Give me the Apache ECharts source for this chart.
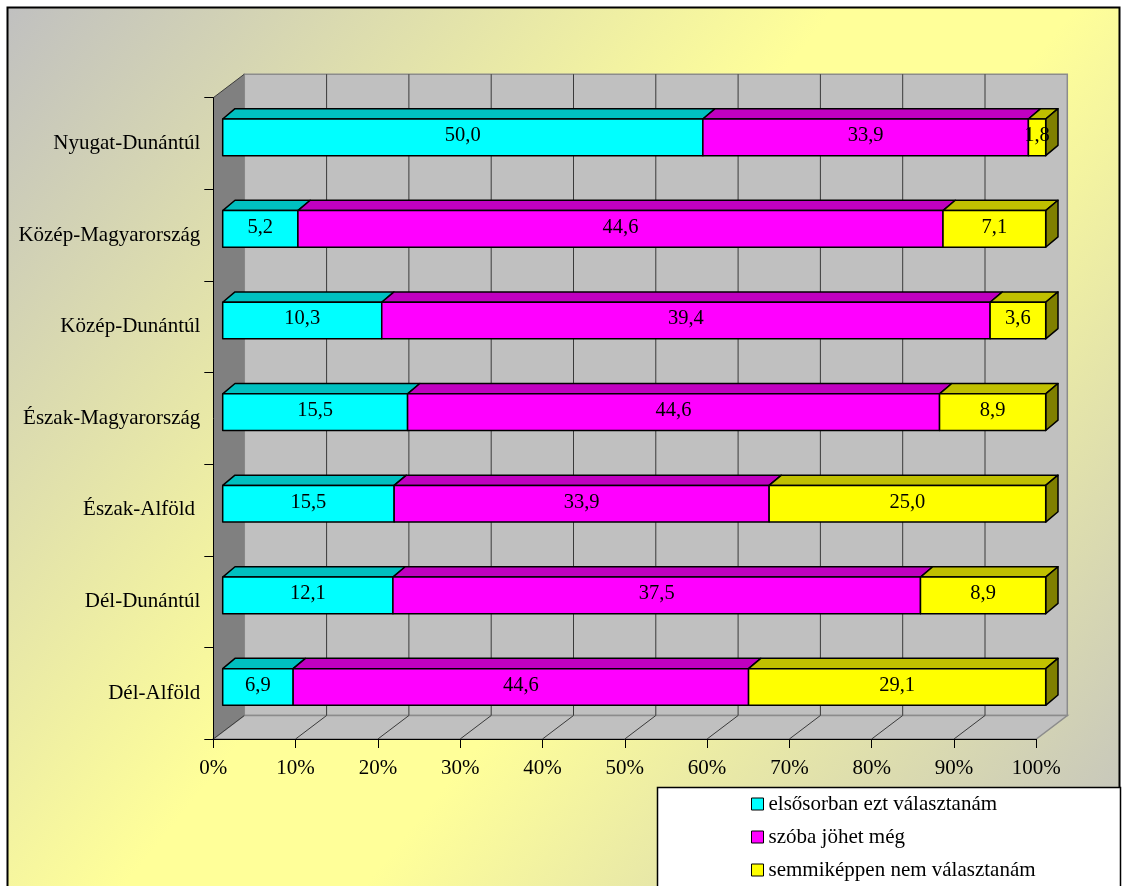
<!DOCTYPE html>
<html>
<head>
<meta charset="utf-8">
<title>Régiók</title>
<script src="https://cdn.jsdelivr.net/npm/echarts@6/dist/echarts.min.js"></script>
<style>
  html, body { margin: 0; padding: 0; background: #ffffff; }
  #chart { width: 1124px; height: 886px; }
</style>
</head>
<body>
<div id="chart"></div>
<script>
// Regions, listed from the bottom row upwards
const categories = ['Dél-Alföld', 'Dél-Dunántúl', 'Észak-Alföld ', 'Észak-Magyarország',
                    'Közép-Dunántúl', 'Közép-Magyarország', 'Nyugat-Dunántúl'];
const seriesNames = ['elsősorban ezt választanám', 'szóba jöhet még', 'semmiképpen nem választanám'];
const firstChoice = [6.9, 12.1, 15.5, 15.5, 10.3, 5.2, 50.0];
const maybe       = [44.6, 37.5, 33.9, 44.6, 39.4, 44.6, 33.9];
const never       = [29.1, 8.9, 25.0, 8.9, 3.6, 7.1, 1.8];
const xTicks      = [0, 10, 20, 30, 40, 50, 60, 70, 80, 90, 100];
const xTickLabels = ['0%', '10%', '20%', '30%', '40%', '50%', '60%', '70%', '80%', '90%', '100%'];

const seriesValues = [firstChoice, maybe, never];
const frontColors = ['#00ffff', '#ff00ff', '#ffff00'];
const topColors   = ['#00c0c0', '#c000c0', '#c0c000'];
const sideColors  = ['#008080', '#800080', '#808000'];

const FONT = '"Liberation Serif", "Times New Roman", serif';
const WALL_DEPTH = [31, -23.5];   // front plane -> back wall
const BAR_FRONT = [9.4, -6.2];    // front plane -> bar front face
const BAR_DEPTH = [12.3, -10.3];  // bar front face -> bar back face
const BAR_RATIO = 0.4;            // bar thickness as share of the band

function fmt(v) { return v.toFixed(1).replace('.', ','); }

// Stacked 100% segments: [row, start%, end%, raw value]
function segmentData(k) {
  return categories.map(function (c, i) {
    let total = 0, start = 0;
    for (let j = 0; j < seriesValues.length; j++) {
      total += seriesValues[j][i];
      if (j < k) start += seriesValues[j][i];
    }
    const end = start + seriesValues[k][i];
    return [i, start / total * 100, end / total * 100, seriesValues[k][i]];
  });
}

function wallsRenderer(params, api) {
  const cs = params.coordSys;
  const D = WALL_DEPTH;
  const xl = cs.x, xr = cs.x + cs.width, yt = cs.y, yb = cs.y + cs.height;
  const children = [];
  // back wall
  children.push({ type: 'rect', shape: { x: xl + D[0], y: yt + D[1], width: cs.width, height: cs.height },
    style: { fill: '#c0c0c0', stroke: '#8c8c8c', lineWidth: 1.5 } });
  // floor
  children.push({ type: 'polygon', shape: { points: [[xl, yb], [xr, yb], [xr + D[0], yb + D[1]], [xl + D[0], yb + D[1]]] },
    style: { fill: '#c0c0c0', stroke: '#8c8c8c', lineWidth: 1.5 } });
  // left wall
  children.push({ type: 'polygon', shape: { points: [[xl, yt], [xl + D[0], yt + D[1]], [xl + D[0], yb + D[1]], [xl, yb]] },
    style: { fill: '#808080' } });
  children.push({ type: 'line', shape: { x1: xl, y1: yt, x2: xl + D[0], y2: yt + D[1] },
    style: { stroke: '#3a3a3a', lineWidth: 1 } });
  children.push({ type: 'line', shape: { x1: xl, y1: yb, x2: xl + D[0], y2: yb + D[1] },
    style: { stroke: '#3a3a3a', lineWidth: 1 } });
  // gridlines on the back wall and floor
  xTicks.forEach(function (v, idx) {
    if (idx === 0 || idx === xTicks.length - 1) return;
    const x = api.coord([v, 0])[0];
    children.push({ type: 'line', shape: { x1: x + D[0], y1: yt + D[1], x2: x + D[0], y2: yb + D[1] },
      style: { stroke: '#3a3a3a', lineWidth: 1 } });
    children.push({ type: 'line', shape: { x1: x, y1: yb, x2: x + D[0], y2: yb + D[1] },
      style: { stroke: '#3a3a3a', lineWidth: 1 } });
  });
  return { type: 'group', children: children };
}

function barRenderer(k) {
  const last = k === seriesValues.length - 1;
  return function (params, api) {
    const row = api.value(0), s = api.value(1), e = api.value(2), raw = api.value(3);
    const p0 = api.coord([s, row]);
    const p1 = api.coord([e, row]);
    const band = api.size([0, 1])[1];
    const h = band * BAR_RATIO;
    const x0 = p0[0] + BAR_FRONT[0], x1 = p1[0] + BAR_FRONT[0];
    const yc = p0[1] + BAR_FRONT[1];
    const yt = yc - h / 2, yb = yc + h / 2;
    const dx = BAR_DEPTH[0], dy = BAR_DEPTH[1];
    const stroke = { stroke: '#000', lineWidth: 1.5, lineJoin: 'round' };
    const children = [];
    children.push({ type: 'polygon',
      shape: { points: [[x0, yt], [x1, yt], [x1 + dx, yt + dy], [x0 + dx, yt + dy]] },
      style: Object.assign({ fill: topColors[k] }, stroke) });
    if (last) {
      children.push({ type: 'polygon',
        shape: { points: [[x1, yt], [x1 + dx, yt + dy], [x1 + dx, yb + dy], [x1, yb]] },
        style: Object.assign({ fill: sideColors[k] }, stroke) });
    }
    children.push({ type: 'rect', shape: { x: x0, y: yt, width: x1 - x0, height: h },
      style: Object.assign({ fill: frontColors[k] }, stroke) });
    children.push({ type: 'text', z2: 10,
      style: { text: fmt(raw), x: (x0 + x1) / 2, y: yc - 1.5, align: 'center', verticalAlign: 'middle',
               font: '20.5px ' + FONT, fill: '#000' } });
    return { type: 'group', children: children };
  };
}

const chart = echarts.init(document.getElementById('chart'), null, { renderer: 'canvas' });

const series = [{
  type: 'custom', name: 'walls', silent: true, z: 1,
  renderItem: wallsRenderer, data: [[0]], encode: { x: 0, y: 0 }
}];
seriesNames.forEach(function (name, k) {
  series.push({
    type: 'custom', name: name, z: 3,
    itemStyle: { color: frontColors[k] },
    renderItem: barRenderer(k),
    encode: { y: 0, x: [1, 2] },
    data: segmentData(k)
  });
});

chart.setOption({
  animation: false,
  graphic: [
    { type: 'rect', z: -20, silent: true,
      shape: { x: 7.5, y: 7.5, width: 1112, height: 900 },
      style: { fill: new echarts.graphic.LinearGradient(0, 0, 1, 1, [
        { offset: 0, color: '#c0c0c0' },
        { offset: 0.45, color: '#ffff99' },
        { offset: 0.58, color: '#ffff99' },
        { offset: 1, color: '#c0c0c0' }
      ]), stroke: '#000', lineWidth: 2 } },
    { type: 'rect', z: -5, silent: true,
      shape: { x: 657.5, y: 787.5, width: 463, height: 120 },
      style: { fill: '#ffffff', stroke: '#000', lineWidth: 1.5 } }
  ],
  grid: { left: 213.3, top: 97.7, width: 823, height: 641.3 },
  xAxis: {
    type: 'value', min: 0, max: 100, interval: 10, z: 10,
    axisLine: { show: true, lineStyle: { color: '#000', width: 1 } },
    axisTick: { show: true, length: 9, lineStyle: { color: '#000', width: 1 } },
    axisLabel: { margin: 19, fontSize: 21, fontFamily: FONT, color: '#000',
      formatter: function (v) { return xTickLabels[xTicks.indexOf(v)]; } },
    splitLine: { show: false }
  },
  yAxis: {
    type: 'category', data: categories, z: 10,
    axisLine: { show: true, lineStyle: { color: '#000', width: 1 } },
    axisTick: { show: true, length: 9, lineStyle: { color: '#000', width: 1 } },
    axisLabel: { margin: 13, fontSize: 21, fontFamily: FONT, color: '#000' },
    splitLine: { show: false }
  },
  legend: {
    data: seriesNames.map(function (n) { return { name: n, icon: 'rect' }; }),
    orient: 'vertical', left: 751, top: 793, height: 160, padding: 0,
    itemWidth: 12, itemHeight: 12, itemGap: 11,
    itemStyle: { borderColor: '#000', borderWidth: 1 },
    textStyle: { fontSize: 21, fontFamily: FONT, color: '#000', lineHeight: 22 },
    selectedMode: false
  },
  series: series
});
</script>
</body>
</html>
